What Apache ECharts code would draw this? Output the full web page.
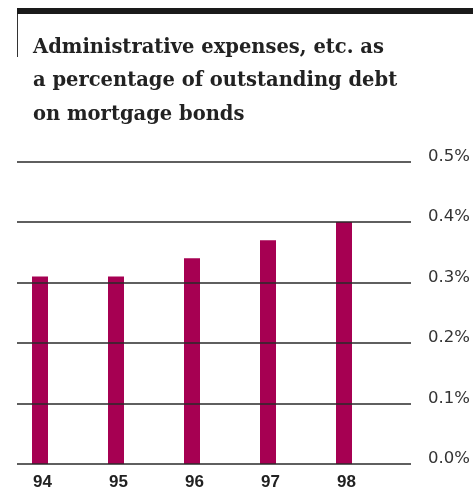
<!DOCTYPE html>
<html>
<head>
<meta charset="utf-8">
<script src="https://cdn.jsdelivr.net/npm/echarts@6/dist/echarts.min.js"></script>
<style>
  html, body { margin: 0; padding: 0; background: #fff; }
  #chart { width: 473px; height: 493px; }
</style>
</head>
<body>
<div id="chart"></div>
<script>
// Years on the category axis
const years = ['94', '95', '96', '97', '98'];
// Administrative expenses as % of outstanding mortgage bond debt
const expenseRatio = [0.31, 0.31, 0.34, 0.37, 0.40];
// Percentage axis range and step
const yMin = 0;
const yMax = 0.5;
const yStep = 0.1;

const chart = echarts.init(document.getElementById('chart'), null, { renderer: 'canvas' });

chart.setOption({
  backgroundColor: '#ffffff',
  animation: false,
  title: {
    text: 'Administrative expenses, etc. as\na percentage of outstanding debt\non mortgage bonds',
    left: 33,
    top: 31,
    padding: 0,
    textStyle: {
      fontFamily: 'DejaVu Serif',
      fontWeight: 'bold',
      fontSize: 19.5,
      lineHeight: 33.5,
      color: '#222222'
    }
  },
  graphic: [
    { type: 'rect', shape: { x: 17, y: 8, width: 456, height: 6 }, style: { fill: '#1a1a1a' } },
    { type: 'rect', shape: { x: 17, y: 14, width: 1, height: 43 }, style: { fill: '#333333' } }
  ],
  grid: [
    { left: 17, right: 62, top: 161.5, bottom: 29 },
    { left: 2, width: 380, top: 161.5, bottom: 29 }
  ],
  xAxis: [
    { gridIndex: 0, type: 'value', show: false, min: 0, max: 1 },
    {
      gridIndex: 1,
      type: 'category',
      data: years,
      axisLine: { show: false },
      axisTick: { show: false },
      axisLabel: {
        margin: 10,
        padding: [0, 0, 0, 5],
        fontFamily: 'Liberation Sans',
        fontWeight: 'bold',
        fontSize: 17,
        color: '#222222'
      }
    }
  ],
  yAxis: [
    {
      gridIndex: 0,
      type: 'value',
      position: 'right',
      min: yMin,
      max: yMax,
      interval: yStep,
      z: 5,
      axisLine: { show: false },
      axisTick: { show: false },
      splitLine: { show: true, lineStyle: { color: '#2a2a2a', width: 1.5 } },
      axisLabel: {
        margin: 17,
        align: 'left',
        verticalAlign: 'bottom',
        lineHeight: 10,
        fontFamily: 'DejaVu Sans',
        fontSize: 16.5,
        color: '#333333',
        formatter: v => v.toFixed(1) + '%'
      }
    },
    { gridIndex: 1, type: 'value', show: false, min: yMin, max: yMax, interval: yStep }
  ],
  series: [
    {
      type: 'bar',
      xAxisIndex: 1,
      yAxisIndex: 1,
      data: expenseRatio,
      barWidth: 16,
      z: 2,
      itemStyle: { color: '#a60052' }
    }
  ]
});
</script>
</body>
</html>
